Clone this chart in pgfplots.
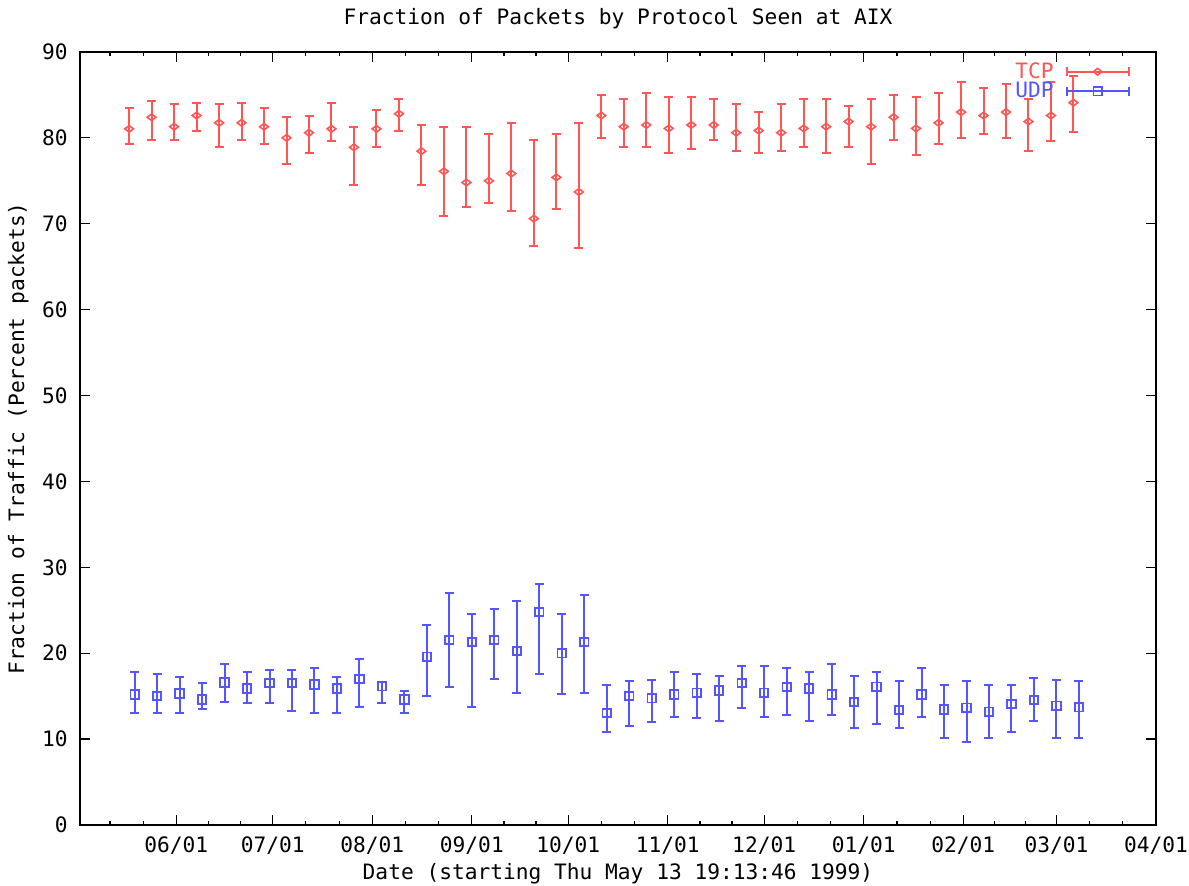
\documentclass[border=0pt]{standalone}
\usepackage{fontspec}
\setmainfont{DejaVu Sans Mono}
\usepackage{pgfplots}
\usepackage{pgfplotstable}
\pgfplotsset{compat=1.18}
\definecolor{tcpc}{RGB}{255,85,85}
\definecolor{udpc}{RGB}{85,85,255}
\newcommand\fsz{\fontsize{10.6}{12}\selectfont}

% x = days since 1999-05-01
\pgfplotstableread{
x y lo hi
16.3 81.05 79.3 83.45
23.3 82.4 79.8 84.3
30.3 81.3 79.8 83.9
37.3 82.6 80.85 84.1
44.3 81.75 78.9 83.9
51.3 81.75 79.8 84.1
58.3 81.3 79.3 83.45
65.3 80.0 76.9 82.4
72.3 80.6 78.25 82.6
79.3 81.05 79.6 84.1
86.3 78.9 74.5 81.3
93.3 81.05 78.9 83.25
100.3 82.8 80.85 84.5
107.3 78.45 74.5 81.5
114.3 76.1 70.85 81.3
121.3 74.8 71.9 81.3
128.3 75.0 72.4 80.4
135.3 75.85 71.5 81.75
142.3 70.6 67.4 79.8
149.3 75.4 71.7 80.4
156.3 73.7 67.2 81.75
163.3 82.6 80.0 85.0
170.3 81.3 78.9 84.5
177.3 81.5 78.9 85.2
184.3 81.1 78.25 84.8
191.3 81.5 78.7 84.8
198.3 81.5 79.8 84.5
205.3 80.6 78.45 83.9
212.3 80.85 78.25 83.0
219.3 80.6 78.45 83.9
226.3 81.1 78.9 84.5
233.3 81.3 78.25 84.5
240.3 81.9 78.9 83.7
247.3 81.3 76.9 84.5
254.3 82.4 79.8 85.0
261.3 81.1 78.0 84.8
268.3 81.75 79.3 85.2
275.3 83.0 80.0 86.5
282.3 82.6 80.4 85.85
289.3 83.0 80.0 86.3
296.3 81.9 78.45 84.5
303.3 82.6 79.6 86.5
310.3 84.1 80.65 87.2
}\tcp

\pgfplotstableread{
x y lo hi
18.0 15.2 13.0 17.8
25.0 15.0 13.0 17.6
32.0 15.3 13.0 17.2
39.0 14.6 13.5 16.5
46.0 16.6 14.3 18.7
53.0 15.9 14.15 17.8
60.0 16.55 14.15 18.05
67.0 16.55 13.25 18.05
74.0 16.35 13.0 18.25
81.0 15.9 13.0 17.2
88.0 17.0 13.7 19.35
95.0 16.15 14.15 16.6
102.0 14.6 13.0 15.65
109.0 19.6 15.0 23.25
116.0 21.55 16.1 27.0
123.0 21.3 13.7 24.6
130.0 21.55 17.0 25.2
137.0 20.25 15.4 26.1
144.0 24.8 17.6 28.05
151.0 20.0 15.2 24.6
158.0 21.3 15.4 26.75
165.0 13.05 10.85 16.3
172.0 15.0 11.5 16.75
179.0 14.75 11.95 16.9
186.0 15.2 12.55 17.8
193.0 15.4 12.4 17.6
200.0 15.65 12.15 17.4
207.0 16.55 13.65 18.5
214.0 15.4 12.55 18.5
221.0 16.05 12.8 18.25
228.0 15.9 12.15 17.8
235.0 15.2 12.8 18.7
242.0 14.3 11.25 17.4
249.0 16.1 11.7 17.8
256.0 13.4 11.25 16.75
263.0 15.2 12.55 18.25
270.0 13.45 10.15 16.25
277.0 13.65 9.7 16.75
284.0 13.2 10.15 16.25
291.0 14.1 10.8 16.25
298.0 14.55 12.15 17.15
305.0 13.9 10.15 16.9
312.0 13.7 10.15 16.75
}\udp

\begin{document}
\begin{tikzpicture}
\useasboundingbox (-40pt,-30.5pt) rectangle (554.5pt,412.5pt);
\begin{axis}[
  at={(0pt,0pt)}, anchor=south west,
  scale only axis, width=538pt, height=386.5pt,
  xmin=1, xmax=336, ymin=0, ymax=90,
  xtick={31,61,92,123,153,184,214,245,276,305,336},
  xticklabels={06/01,07/01,08/01,09/01,10/01,11/01,12/01,01/01,02/01,03/01,04/01},
  minor xtick={10.33,20.67,41,51,71.33,81.67,102.33,112.67,133,143,163.33,173.67,194,204,224.33,234.67,255.33,265.67,285.67,295.33,315.33,325.67},
  ytick={0,10,...,90},
  tick align=inside, tick pos=both,
  major tick length=5pt, minor tick length=2pt,
  every tick/.style={black, line width=0.6pt},
  axis line style={line width=1pt},
  /pgf/number format/assume math mode=true,
  tick label style={font=\fsz},
  xticklabel style={anchor=base, yshift=-14pt, inner sep=0pt},
  yticklabel style={anchor=east, xshift=-6pt, inner sep=0pt},
  title={Fraction of Packets by Protocol Seen at AIX},
  every axis title/.style={at={(axis description cs:0.5,1)}, anchor=base, yshift=13.5pt, font=\fsz},
  xlabel={Date (starting Thu May 13 19:13:46 1999)},
  every axis x label/.style={at={(axis description cs:0.5,0)}, anchor=base, yshift=-27.5pt, font=\fsz},
  ylabel={Fraction of Traffic (Percent packets)},
  every axis y label/.style={at={(axis description cs:-0.052,0.5)}, rotate=90, anchor=base, font=\fsz},
  legend style={at={(rel axis cs:1,1)}, anchor=north east, xshift=-13pt, yshift=-4pt,
    draw=none, fill=none, font=\fsz, row sep=-1.5pt, inner sep=0pt,
    nodes={inner sep=1pt},
    /tikz/every odd column/.append style={column sep=5pt}},
  legend plot pos=right,
  legend cell align=right,
]
\addplot[tcpc, only marks, mark=diamond, mark size=2.2pt, mark options={rotate=90, line width=0.8pt},
  error bars/.cd, y dir=both, y explicit,
  error bar style={line width=1pt, tcpc},
  error mark options={rotate=90, tcpc, mark size=2.25pt, line width=1pt},
  /pgfplots/legend image code/.code={
    \draw[tcpc, line width=1pt] (0pt,0pt) -- (31pt,0pt);
    \draw[tcpc, line width=1pt] (0pt,-2.25pt) -- (0pt,2.25pt) (31pt,-2.25pt) -- (31pt,2.25pt);
    \draw[tcpc, line width=0.8pt, mark=diamond, mark size=2.2pt, mark options={rotate=90}] plot coordinates {(15.5pt,0pt)};
  }]
  table[x=x, y=y, y error plus expr=\thisrow{hi}-\thisrow{y}, y error minus expr=\thisrow{y}-\thisrow{lo}] {\tcp};
\addlegendentry{\textcolor{tcpc}{TCP}}
\addplot[udpc, only marks, mark=square, mark size=2.1pt, mark options={line width=0.9pt},
  error bars/.cd, y dir=both, y explicit,
  error bar style={line width=1pt, udpc},
  error mark options={rotate=90, udpc, mark size=2.25pt, line width=1pt},
  /pgfplots/legend image code/.code={
    \draw[udpc, line width=1pt] (0pt,0pt) -- (31pt,0pt);
    \draw[udpc, line width=1pt] (0pt,-2.25pt) -- (0pt,2.25pt) (31pt,-2.25pt) -- (31pt,2.25pt);
    \draw[udpc, line width=0.9pt, mark=square, mark size=2.1pt] plot coordinates {(15.5pt,0pt)};
  }]
  table[x=x, y=y, y error plus expr=\thisrow{hi}-\thisrow{y}, y error minus expr=\thisrow{y}-\thisrow{lo}] {\udp};
\addlegendentry{\textcolor{udpc}{UDP}}
\end{axis}
\end{tikzpicture}
\end{document}
